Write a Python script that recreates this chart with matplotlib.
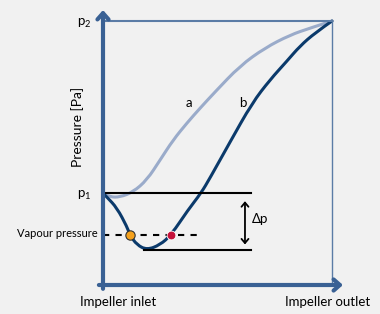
import matplotlib.pyplot as plt
from matplotlib.patches import FancyArrowPatch, PathPatch
from matplotlib.path import Path

plt.rcParams['font.family'] = ['Lato', 'DejaVu Sans']

# position along the impeller (0 = inlet, 1 = outlet), pressure normalised to p2 = 1
a_x = [0, 0.031, 0.074, 0.131, 0.192, 0.249, 0.306, 0.367, 0.424, 0.489, 0.598, 0.707, 0.817, 0.904, 1.0]
a_y = [0.345, 0.333, 0.333, 0.352, 0.398, 0.473, 0.549, 0.614, 0.670, 0.731, 0.830, 0.898, 0.947, 0.973, 1.0]
b_x = [0, 0.017, 0.061, 0.105, 0.118, 0.148, 0.192, 0.249, 0.297, 0.371, 0.428, 0.467, 0.555, 0.651,
       0.729, 0.803, 0.860, 0.926, 1.0]
b_y = [0.348, 0.333, 0.292, 0.220, 0.189, 0.152, 0.133, 0.152, 0.189, 0.284, 0.348, 0.405, 0.542, 0.689,
       0.777, 0.848, 0.905, 0.955, 1.0]
p1 = 0.348
p2 = 1.0
p_low = 0.133
p_vap = 0.189
x_low_start = 0.18
x_line_end = 0.647
x_vap_end = 0.42
orange_x = 0.118
red_x = 0.297
dp_x = 0.62

axis_col = '#3a6194'
bg = '#f1f1f1'


def smooth_path(xs, ys):
    # quadratic bezier through midpoints, read points act as control points
    pts = list(zip(xs, ys))
    verts = [pts[0]]
    codes = [Path.MOVETO]
    for i in range(1, len(pts) - 1):
        mid = ((pts[i][0] + pts[i + 1][0]) / 2, (pts[i][1] + pts[i + 1][1]) / 2)
        if i == len(pts) - 2:
            mid = pts[-1]
        verts += [pts[i], mid]
        codes += [Path.CURVE3, Path.CURVE3]
    return Path(verts, codes)


fig = plt.figure(figsize=(3.8, 3.14), dpi=100, facecolor=bg)
ax = fig.add_axes([103 / 380, 29 / 314, 229 / 380, 264 / 314])
ax.set_facecolor(bg)
ax.set_xlim(0, 1)
ax.set_ylim(0, 1)
ax.axis('off')

# box lines
ax.plot([0, 1], [p2, p2], color='#5b7ca6', lw=1.5, clip_on=False)
ax.plot([1, 1], [0, p2], color='#5b7ca6', lw=1.0, clip_on=False)

# reference lines
ax.plot([0, x_line_end], [p1, p1], color='black', lw=1.5, clip_on=False)
ax.plot([x_low_start, x_line_end], [p_low, p_low], color='black', lw=1.5, clip_on=False)
ax.plot([0, x_vap_end], [p_vap, p_vap], color='black', lw=1.5, ls=(0, (3, 3)), clip_on=False)

# curves
ax.add_patch(PathPatch(smooth_path(a_x, a_y), fill=False, edgecolor='#9aabca', lw=2.2, capstyle='round', clip_on=False))
ax.add_patch(PathPatch(smooth_path(b_x, b_y), fill=False, edgecolor='#0b3a6b', lw=2.2, capstyle='round', clip_on=False))

ax.scatter([orange_x], [p_vap], s=45, color='#f5a11c', edgecolor='#333333', lw=0.8, zorder=5, clip_on=False)
ax.scatter([red_x], [p_vap], s=40, color='#c4113a', edgecolor='white', lw=0.6, zorder=5, clip_on=False)

# delta p arrow
ax.add_patch(FancyArrowPatch((dp_x, p1 - 0.02), (dp_x, p_low + 0.01), arrowstyle='<->,head_length=3,head_width=2.5',
                             color='black', lw=1.3, clip_on=False))

# axes with arrows
ax.annotate('', xy=(0, 1.052), xytext=(0, -0.025),
            arrowprops=dict(arrowstyle='->,head_length=0.45,head_width=0.4', color=axis_col, lw=3.0),
            annotation_clip=False)
ax.annotate('', xy=(1.06, 0), xytext=(-0.03, 0),
            arrowprops=dict(arrowstyle='->,head_length=0.45,head_width=0.4', color=axis_col, lw=3.0),
            annotation_clip=False)

# texts
fs = 9
ax.text(-0.05, p2 - 0.01, '$\\mathregular{p_2}$', ha='right', va='center', fontsize=fs + 0.5)
ax.text(-0.05, p1 - 0.01, '$\\mathregular{p_1}$', ha='right', va='center', fontsize=fs + 0.5)
ax.text(-0.025, p_vap + 0.005, 'Vapour pressure', ha='right', va='center', fontsize=8)
ax.text(dp_x + 0.025, (p1 + p_low) / 2 + 0.01, '$\\mathregular{\\Delta p}$', ha='left', va='center', fontsize=fs + 0.5)
ax.text(0.375, 0.69, 'a', ha='center', va='center', fontsize=fs + 0.5)
ax.text(0.61, 0.69, 'b', ha='center', va='center', fontsize=fs + 0.5)
ax.text(-0.11, 0.6, 'Pressure [Pa]', rotation=90, ha='center', va='center', fontsize=10)
ax.text(0.065, -0.04, 'Impeller inlet', ha='center', va='top', fontsize=9.5)
ax.text(0.98, -0.04, 'Impeller outlet', ha='center', va='top', fontsize=9.5)

fig.savefig('out.png', dpi=100, facecolor=bg)
